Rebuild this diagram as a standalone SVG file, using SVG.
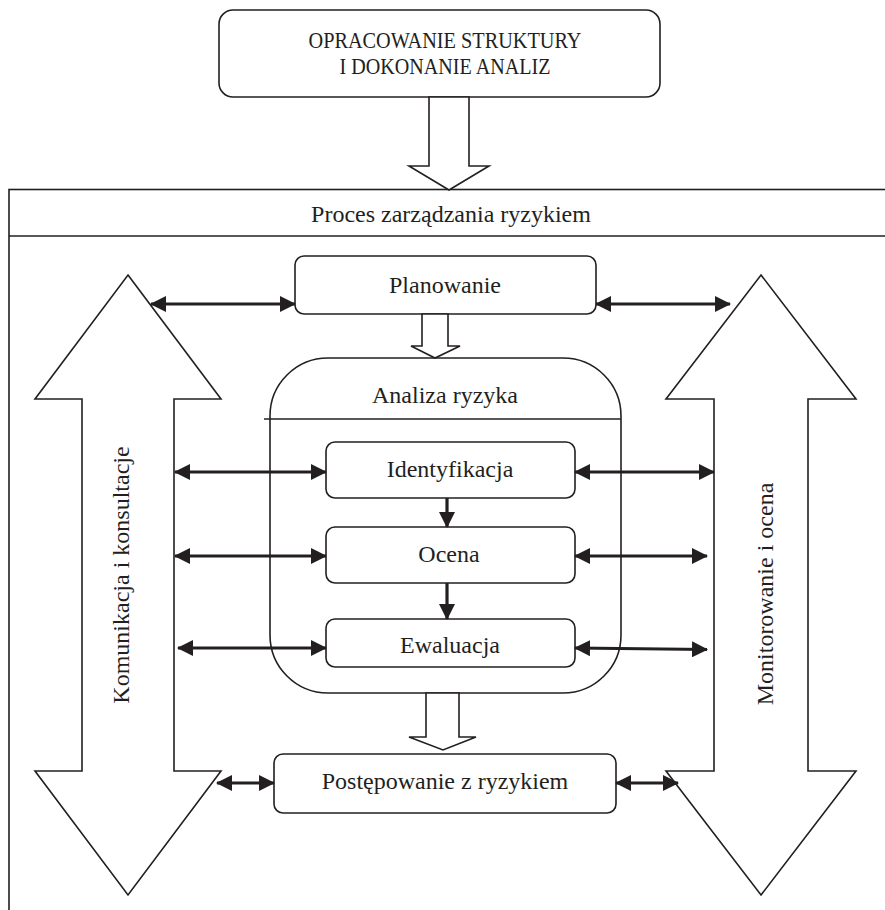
<svg xmlns="http://www.w3.org/2000/svg" width="885" height="910" viewBox="0 0 885 910">
<defs>
<marker id="ah" markerUnits="userSpaceOnUse" markerWidth="16" markerHeight="16" viewBox="0 0 16 16" refX="15" refY="8" orient="auto-start-reverse">
<path d="M0,0 L16,8 L0,16 z" fill="#231f20"/>
</marker>
<style>
.box{fill:#fff;stroke:#231f20;stroke-width:1.6}
.shape{fill:#fff;stroke:#231f20;stroke-width:1.6;stroke-linejoin:miter}
.ln{fill:none;stroke:#231f20;stroke-width:1.6}
.ar{fill:none;stroke:#231f20;stroke-width:3.2;marker-start:url(#ah);marker-end:url(#ah)}
.ar1{fill:none;stroke:#231f20;stroke-width:3.2;marker-end:url(#ah)}
text{font-family:"Liberation Serif","Times New Roman",serif;fill:#231f20;text-anchor:middle;font-size:24px}
</style>
</defs>
<rect width="885" height="910" fill="#fff"/>

<g id="frame">
<rect class="ln" x="9" y="189.5" width="900" height="800"/>
<line class="ln" x1="9" y1="236" x2="890" y2="236"/>
<text x="451" y="222">Proces zarządzania ryzykiem</text>
</g>

<g id="top-box">
<rect class="box" x="219" y="10" width="441" height="87" rx="14"/>
<text x="445" y="48" font-size="23" textLength="273" lengthAdjust="spacingAndGlyphs">OPRACOWANIE STRUKTURY</text>
<text x="445" y="74" font-size="23" textLength="211" lengthAdjust="spacingAndGlyphs">I DOKONANIE ANALIZ</text>
</g>

<g id="komunikacja">
<polygon class="shape" points="128,275 221,399 174,399 174,771 221,771 128,895 35,771 82,771 82,399 35,399"/>
<text transform="translate(129,575) rotate(-90)" font-size="25">Komunikacja i konsultacje</text>
</g>

<g id="monitorowanie">
<polygon class="shape" points="761,275 856,399 808,399 808,771 856,771 761,895 666,771 714,771 714,399 666,399"/>
<text transform="translate(773,594) rotate(-90)" font-size="27">Monitorowanie i ocena</text>
</g>

<g id="planowanie">
<rect class="box" x="295" y="256" width="301" height="58" rx="9"/>
<text x="445" y="293">Planowanie</text>
</g>

<g id="analiza">
<rect class="box" x="270" y="358" width="351" height="335" rx="58"/>
<line class="ln" x1="264" y1="419" x2="621" y2="419"/>
<text x="445" y="403" font-size="23">Analiza ryzyka</text>
</g>

<g id="identyfikacja">
<rect class="box" x="326" y="442" width="249" height="56" rx="9"/>
<text x="450" y="477">Identyfikacja</text>
</g>

<g id="ocena">
<rect class="box" x="326" y="527" width="249" height="56" rx="9"/>
<text x="449" y="562">Ocena</text>
</g>

<g id="ewaluacja">
<rect class="box" x="326" y="619" width="249" height="48" rx="9"/>
<text x="450" y="653">Ewaluacja</text>
</g>

<g id="postepowanie">
<rect class="box" x="274" y="754" width="342" height="59" rx="9"/>
<text x="445" y="789" font-size="25">Postępowanie z ryzykiem</text>
</g>

<g id="connectors">
<polygon class="shape" points="429,97 469,97 469,166 489,166 449,190 409,166 429,166"/>
<polygon class="shape" points="422,314 448,314 448,346 460,346 435,358 411,346 422,346"/>
<polygon class="shape" points="426,693 459,693 459,737 476,737 443,750 409,737 426,737"/>
<line class="ar" x1="151" y1="304" x2="295" y2="304"/>
<line class="ar" x1="596" y1="304" x2="730" y2="304"/>
<line class="ar" x1="175" y1="472" x2="326" y2="472"/>
<line class="ar" x1="175" y1="556" x2="326" y2="556"/>
<line class="ar" x1="178" y1="648" x2="326" y2="648"/>
<line class="ar" x1="575" y1="472" x2="714" y2="472"/>
<line class="ar" x1="575" y1="556" x2="707" y2="556"/>
<line class="ar" x1="575" y1="648" x2="707" y2="649.5"/>
<line class="ar" x1="217" y1="783" x2="274" y2="783"/>
<line class="ar" x1="616" y1="783" x2="678" y2="783"/>
<line class="ar1" x1="447" y1="498" x2="447" y2="527"/>
<line class="ar1" x1="447" y1="583" x2="447" y2="619"/>
</g>
</svg>
